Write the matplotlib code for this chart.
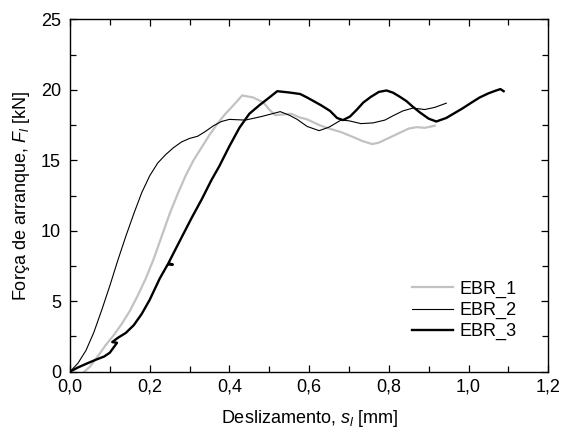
import matplotlib
matplotlib.use("Agg")
import matplotlib.pyplot as plt
from matplotlib.ticker import MultipleLocator, FuncFormatter

plt.rcParams['font.family'] = ['Liberation Sans', 'DejaVu Sans']
plt.rcParams['mathtext.fontset'] = 'custom'
plt.rcParams['mathtext.rm'] = 'Liberation Sans'
plt.rcParams['mathtext.it'] = 'Liberation Sans:italic'
plt.rcParams['font.size'] = 13

# EBR_1 (cinzento)
s1 = [0.036, 0.05, 0.07, 0.09, 0.11, 0.13, 0.15, 0.17, 0.19, 0.21, 0.23, 0.25, 0.27, 0.29,
      0.31, 0.33, 0.35, 0.37, 0.39, 0.41, 0.432, 0.46, 0.485, 0.50, 0.515, 0.535, 0.555,
      0.575, 0.595, 0.625, 0.65, 0.68, 0.71, 0.735, 0.758, 0.775, 0.79, 0.82, 0.85, 0.87,
      0.89, 0.915]
f1 = [0.0, 0.35, 1.1, 1.9, 2.6, 3.4, 4.3, 5.4, 6.6, 8.0, 9.6, 11.2, 12.6, 13.9,
      15.0, 15.9, 16.8, 17.6, 18.3, 18.9, 19.6, 19.45, 19.1, 18.6, 18.2, 18.25, 18.3,
      18.05, 17.9, 17.5, 17.25, 17.0, 16.65, 16.35, 16.15, 16.25, 16.45, 16.85, 17.25, 17.35,
      17.3, 17.45]

# EBR_2 (linha fina)
s2 = [0.0, 0.02, 0.04, 0.06, 0.08, 0.10, 0.12, 0.14, 0.16, 0.18, 0.20, 0.22, 0.24, 0.26,
      0.28, 0.30, 0.32, 0.34, 0.36, 0.38, 0.40, 0.44, 0.48, 0.5275, 0.55, 0.57, 0.595,
      0.625, 0.65, 0.68, 0.70, 0.73, 0.76, 0.79, 0.81, 0.835, 0.86, 0.89, 0.915, 0.944]
f2 = [0.0, 0.6, 1.5, 2.8, 4.4, 6.1, 7.9, 9.6, 11.2, 12.7, 13.9, 14.8, 15.4, 15.9,
      16.3, 16.55, 16.7, 17.05, 17.45, 17.75, 17.9, 17.85, 18.1, 18.45, 18.2, 17.9, 17.4,
      17.1, 17.35, 17.85, 17.8, 17.6, 17.65, 17.85, 18.15, 18.5, 18.7, 18.6, 18.75, 19.05]

# EBR_3 (linha grossa)
s3 = [0.0, 0.02, 0.044, 0.065, 0.086, 0.1, 0.118, 0.106, 0.12, 0.14, 0.16, 0.18, 0.20,
      0.225, 0.245, 0.258, 0.247, 0.265, 0.285, 0.305, 0.33, 0.355, 0.375, 0.40, 0.425,
      0.45, 0.475, 0.50, 0.52, 0.5525, 0.5775, 0.595, 0.611, 0.63, 0.6525, 0.67, 0.685,
      0.7025, 0.72, 0.736, 0.755, 0.775, 0.794, 0.81, 0.825, 0.844, 0.86, 0.8775, 0.90,
      0.919, 0.944, 0.965, 0.986, 1.005, 1.0275, 1.05, 1.069, 1.08, 1.088]
f3 = [0.0, 0.3, 0.6, 0.85, 1.08, 1.35, 2.05, 2.1, 2.4, 2.75, 3.3, 4.1, 5.1,
      6.6, 7.6, 7.6, 7.7, 8.7, 9.8, 10.9, 12.2, 13.6, 14.6, 16.0, 17.3,
      18.3, 18.9, 19.45, 19.9, 19.8, 19.7, 19.45, 19.2, 18.9, 18.5, 18.0, 17.85,
      18.1, 18.6, 19.1, 19.5, 19.85, 19.95, 19.8, 19.55, 19.2, 18.8, 18.4, 17.95,
      17.75, 18.0, 18.35, 18.7, 19.05, 19.45, 19.75, 19.95, 20.05, 19.9]

fig = plt.figure(figsize=(5.63, 4.32), dpi=100)
ax = fig.add_axes([0.1243, 0.1396, 0.8496, 0.8157])

ax.plot(s1, f1, color='#c2c2c2', lw=1.6, label='EBR_1')
ax.plot(s2, f2, color='black', lw=0.8, label='EBR_2')
ax.plot(s3, f3, color='black', lw=1.7, label='EBR_3')

ax.set_xlim(0, 1.2)
ax.set_ylim(0, 25)
ax.xaxis.set_major_locator(MultipleLocator(0.2))
ax.xaxis.set_minor_locator(MultipleLocator(0.1))
ax.yaxis.set_major_locator(MultipleLocator(5))
ax.yaxis.set_minor_locator(MultipleLocator(2.5))
ax.xaxis.set_major_formatter(FuncFormatter(lambda v, p: f'{v:.1f}'.replace('.', ',')))
ax.tick_params(which='major', direction='in', top=True, right=True, length=5, width=0.9, pad=5)
ax.tick_params(which='minor', direction='in', top=True, right=True, length=4, width=0.9)
ax.tick_params(axis='y', which='major', pad=6.5)
for sp in ax.spines.values():
    sp.set_linewidth(1.0)

ax.set_xlabel('Deslizamento, $s_l$ [mm]', labelpad=9)
ax.set_ylabel('Força de arranque, $F_l$ [kN]', labelpad=6)

ax.legend(loc='upper left', bbox_to_anchor=(0.714, 0.258), frameon=False,
          handlelength=2.3, handletextpad=0.35, labelspacing=0.22, borderaxespad=0,
          borderpad=0)

fig.savefig('out.png', dpi=100)
